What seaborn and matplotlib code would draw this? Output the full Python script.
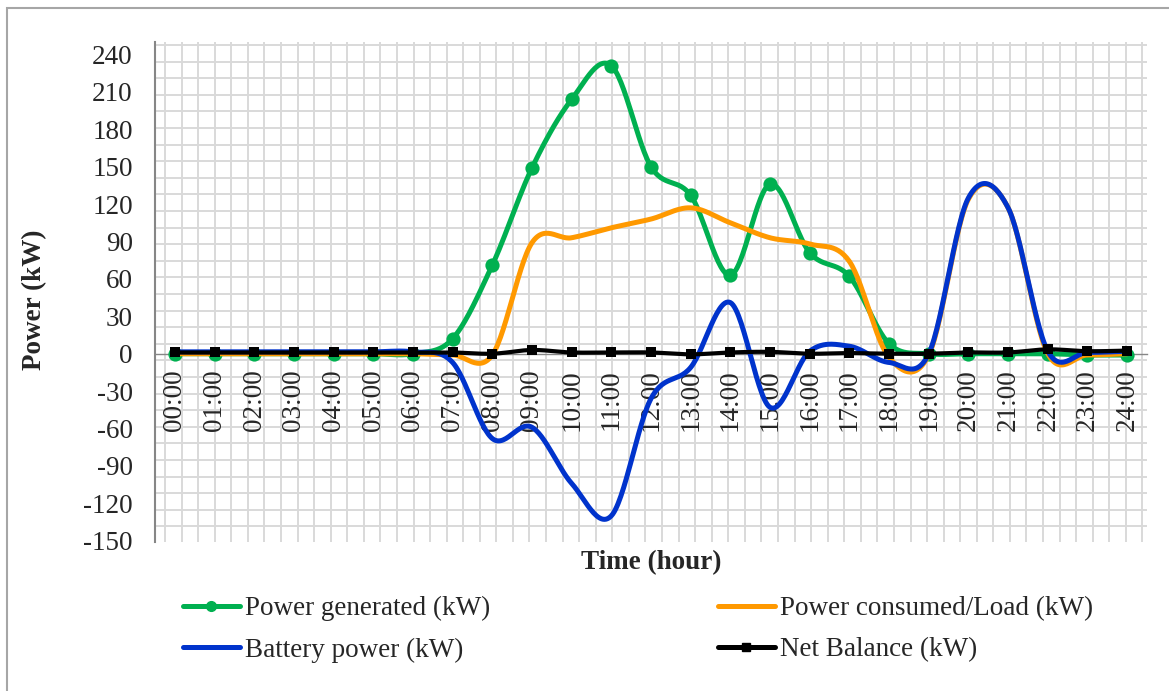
import numpy as np
import pandas as pd
import seaborn as sns
import matplotlib
matplotlib.use("Agg")
from matplotlib import pyplot as plt
from matplotlib.lines import Line2D
from matplotlib.patches import Rectangle

# values, one per hour
hours = list(range(25))
hour_labels = ["00:00", "01:00", "02:00", "03:00", "04:00", "05:00", "06:00",
               "07:00", "08:00", "09:00", "10:00", "11:00", "12:00", "13:00",
               "14:00", "15:00", "16:00", "17:00", "18:00", "19:00", "20:00",
               "21:00", "22:00", "23:00", "24:00"]
generated = [0, 0, 0, 0, 0, 0, 0, 12, 71, 149, 204, 231, 150, 127, 63,
             136, 81, 62, 8, 0, 0, 0, 0, -1, -1]
load = [0, 0, 0, 0, 0, 0, 0, -1, -1, 89, 93, 101, 108, 117, 105,
        93, 88, 74, -3, -1, 124, 117, 0, -1, 0]
battery = [1.5, 1.5, 1.5, 1.5, 1.5, 1.5, 1.5, -7, -68, -59, -104, -130, -36, -11, 41,
           -43, 2, 6, -7, 0, 125, 117, 2, 1, 2]
net = [1, 1, 1, 1, 1, 1, 1, 1, 0, 3, 1, 1, 1, -0.5, 1,
       1.5, 0, 0.5, 0, 0, 1, 1, 3.5, 2, 2.5]
yticks = list(range(-150, 241, 30))


def smooth(xs, ys, n=30):
    # excel style smoothed line (catmull-rom bezier through the points)
    pts = np.column_stack([xs, ys]).astype(float)
    P = np.vstack([pts[0], pts, pts[-1]])
    t = np.linspace(0, 1, n)[:, None]
    out = []
    for i in range(1, len(P) - 2):
        p0, p1, p2, p3 = P[i - 1], P[i], P[i + 1], P[i + 2]
        c1 = p1 + (p2 - p0) / 6
        c2 = p2 - (p3 - p1) / 6
        seg = (1 - t) ** 3 * p1 + 3 * (1 - t) ** 2 * t * c1 + 3 * (1 - t) * t ** 2 * c2 + t ** 3 * p2
        out.append(seg if i == 1 else seg[1:])
    s = np.vstack(out)
    return pd.DataFrame({"x": s[:, 0], "y": s[:, 1]})


sns.set_style("white")
plt.rcParams["font.family"] = ["Liberation Serif", "DejaVu Serif"]
FS = 19.5

fig = plt.figure(figsize=(11.69, 6.91), dpi=100)
ax = fig.add_axes([155 / 1169, 1 - 542 / 691, 992 / 1169, 500 / 691])

# patterned background grid of the plot area
for i in range(60):
    ax.plot([0.0101 + i * 0.0167] * 2, [0, 1], transform=ax.transAxes,
            color="#d9d9d9", lw=1.4, zorder=0)
for i in range(30):
    ax.plot([0, 1], [0.994 - i * 0.0332] * 2, transform=ax.transAxes,
            color="#d9d9d9", lw=1.4, zorder=0)

green, orange, blue = "#00b050", "#ff9900", "#0033cc"
series = [(generated, green, 3.6, "o", 105), (load, orange, 3.6, None, 0),
          (battery, blue, 3.6, None, 0), (net, "black", 3.0, "s", 50)]
for k, (vals, col, lw, mk, sz) in enumerate(series):
    d = smooth(hours, vals)
    sns.lineplot(data=d, x="x", y="y", sort=False, estimator=None, color=col,
                 lw=lw, ax=ax, zorder=3 + k)
    if mk:
        sns.scatterplot(x=hours, y=vals, marker=mk, s=sz, color=col,
                        linewidth=0, ax=ax, zorder=3 + k)

# axis line through zero (set before the ticks, it resets them)
for s in ["top", "right"]:
    ax.spines[s].set_visible(False)
ax.spines["bottom"].set_position(("data", 0))
ax.spines["bottom"].set_color("#868686")
ax.spines["bottom"].set_linewidth(1.0)
ax.spines["left"].set_color("#868686")
ax.spines["left"].set_linewidth(1.5)

ax.set_xlim(-0.5, 24.5)
ax.set_ylim(-151, 250)
ax.set_xticks(hours)
ax.set_xticklabels(hour_labels, rotation=90, fontsize=FS)
ax.set_yticks(yticks)
ax.set_yticklabels([str(v) for v in yticks], fontsize=FS)
ax.tick_params(axis="x", length=0, pad=11)
ax.tick_params(axis="y", length=0, pad=16)
ax.set_xlabel("")
ax.set_ylabel("")

fig.text(651 / 1169, 1 - 563 / 691, "Time (hour)", ha="center", va="center",
         fontsize=FS, fontweight="bold")
fig.text(35 / 1169, 1 - 300 / 691, "Power (kW)", ha="center", va="center",
         rotation=90, fontsize=FS, fontweight="bold")

handles = [Line2D([], [], color=green, lw=3.6, marker="o", ms=7),
           Line2D([], [], color=blue, lw=3.6),
           Line2D([], [], color=orange, lw=3.6),
           Line2D([], [], color="black", lw=3.6, marker="s", ms=6)]
labels = ["Power generated (kW)", "Battery power (kW)",
          "Power consumed/Load (kW)", "Net Balance (kW)"]
fig.legend(handles, labels, ncol=2, loc="upper left",
           bbox_to_anchor=(183 / 1169, 1 - 596 / 691), frameon=False,
           fontsize=FS, handlelength=2.1, handletextpad=0.2,
           columnspacing=8.4, labelspacing=0.6, borderpad=0, borderaxespad=0)

fig.patches.append(Rectangle((7 / 1169, -0.05), 1.1, 1 - 8 / 691 + 0.05,
                             transform=fig.transFigure, fill=False,
                             edgecolor="#a6a6a6", lw=1.5))

fig.savefig("out.png", dpi=100)
